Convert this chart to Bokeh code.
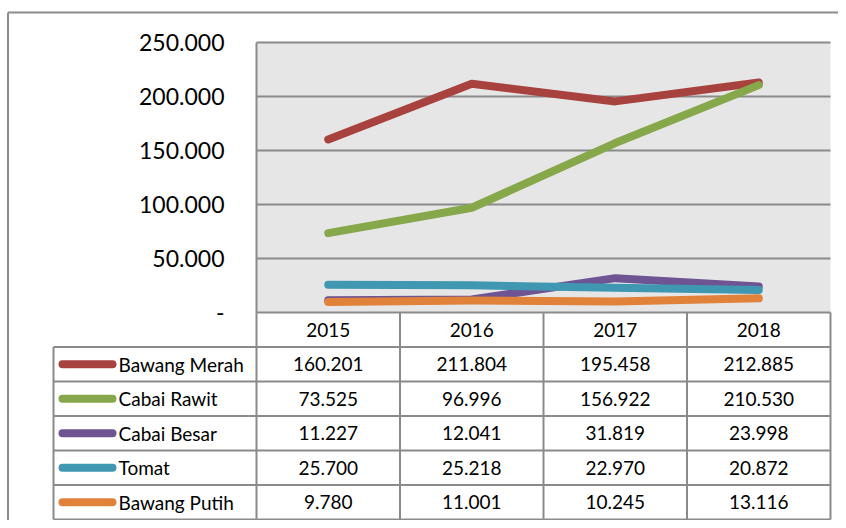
from bokeh.plotting import figure
from bokeh.models import Range1d
from bokeh.core.properties import value
from bokeh.embed import file_html
from bokeh.resources import INLINE

# ---- data ----
years = ["2015", "2016", "2017", "2018"]
series_names = ["Bawang Merah", "Cabai Rawit", "Cabai Besar", "Tomat", "Bawang Putih"]
bawang_merah = [160201, 211804, 195458, 212885]
cabai_rawit = [73525, 96996, 156922, 210530]
cabai_besar = [11227, 12041, 31819, 23998]
tomat = [25700, 25218, 22970, 20872]
bawang_putih = [9780, 11001, 10245, 13116]
series_values = [bawang_merah, cabai_rawit, cabai_besar, tomat, bawang_putih]
series_colors = ["#A8423F", "#86A74A", "#6E5493", "#3F97B1", "#E0823A"]
y_ticks = [0, 50000, 100000, 150000, 200000, 250000]
y_tick_labels = ["-", "50.000", "100.000", "150.000", "200.000", "250.000"]

# ---- geometry (pixel layout -> data units) ----
W, H = 838, 520
COL_PX = 143.5          # width of one year column in px
PA_LEFT = 256           # plot area left (px)
Y0_PX = 312             # y = 0 (px)
Y_PER_PX = 250000 / 270.0
OFF = 0


def dx(px):
    return (px - PA_LEFT) / COL_PX


def dy(py):
    return (Y0_PX - py) * Y_PER_PX


p = figure(width=W, height=H, output_backend="svg", toolbar_location=None,
           x_axis_type=None, y_axis_type=None, min_border=0,
           x_range=Range1d(dx(OFF), dx(OFF + W)),
           y_range=Range1d(dy(OFF + H), dy(OFF)))
p.grid.visible = False
p.outline_line_color = None
p.background_fill_color = "white"
p.border_fill_color = "white"

GRAY = "#8A8A8A"
FONT = value("Lato")
n = len(years)

# outer chart border (left, top)
p.segment(x0=[dx(7.5), dx(7.5)], y0=[dy(12), dy(12)],
          x1=[dx(7.5), dx(OFF + W)], y1=[dy(OFF + H), dy(12)],
          line_color="#8C8C8C", line_width=2)

# plot area
p.quad(left=[0], right=[n], bottom=[0], top=[max(y_ticks)],
       fill_color="#E6E6E6", line_color=None)
grid_vals = [t for t in y_ticks if t > 0]
p.segment(x0=[0] * len(grid_vals), x1=[n] * len(grid_vals), y0=grid_vals, y1=grid_vals,
          line_color=GRAY, line_width=2)

# y tick labels
p.text(x=[dx(224)] * len(y_ticks), y=y_ticks, text=y_tick_labels,
       text_align="right", text_baseline="middle",
       text_font=FONT, text_font_size="23px", text_color="#000000")

# table geometry
ROW_PX = 34.5
rows = len(series_names)
row_h = ROW_PX * Y_PER_PX
leg_left = dx(53)
table_bottom = -(rows + 1) * row_h

# horizontal table lines
hx0, hx1, hy = [0], [n], [0]
for k in range(1, rows + 2):
    hx0.append(leg_left); hx1.append(n); hy.append(-k * row_h)
p.segment(x0=hx0, x1=hx1, y0=hy, y1=hy, line_color=GRAY, line_width=2)

# vertical table lines
vx = [leg_left] + list(range(0, n + 1))
vy0 = [-row_h] + [0] * (n + 1)
vy0[1] = max(y_ticks)  # plot area left border continues up
p.segment(x0=vx, x1=vx, y0=vy0, y1=[table_bottom] * len(vx), line_color=GRAY, line_width=2)

# header row years
centers = [i + 0.5 for i in range(n)]
p.text(x=centers, y=[-0.5 * row_h] * n, text=years, text_align="center",
       text_baseline="middle", text_font=FONT, text_font_size="19px",
       text_color="#000000")


def fmt(v):
    return "{:,}".format(v).replace(",", ".")


# series lines + table rows
for i, (name, vals, col) in enumerate(zip(series_names, series_values, series_colors)):
    p.line(x=centers, y=vals, line_color=col, line_width=8,
           line_cap="round", line_join="round")
    yc = -(i + 1.5) * row_h
    p.segment(x0=[dx(62)], x1=[dx(112)], y0=[yc], y1=[yc], line_color=col,
              line_width=8, line_cap="round")
    p.text(x=[dx(118)], y=[yc], text=[name], text_align="left", text_baseline="middle",
           text_font=FONT, text_font_size="19px", text_color="#000000")
    p.text(x=centers, y=[yc] * n, text=[fmt(v) for v in vals], text_align="center",
           text_baseline="middle", text_font=FONT, text_font_size="19px",
           text_color="#000000")

open("out.html", "w").write(file_html(p, INLINE))
